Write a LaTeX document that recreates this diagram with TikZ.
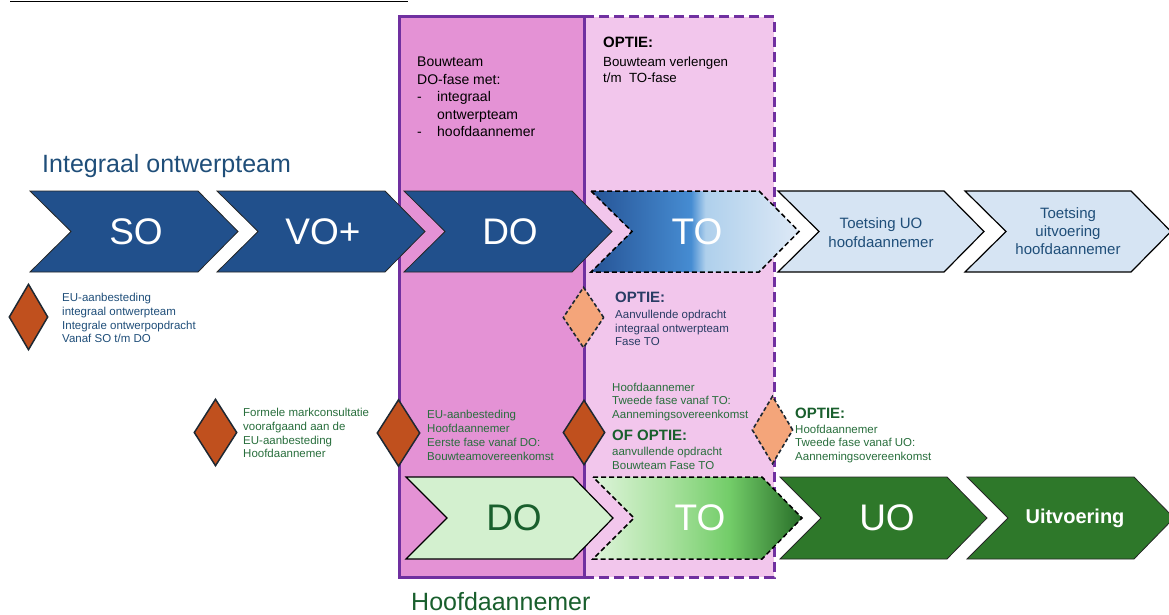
\documentclass[tikz,border=0pt]{standalone}
\usepackage{fontspec}
\setmainfont{Liberation Sans}
\usetikzlibrary{shapes.geometric}
\definecolor{bluechev}{RGB}{33,80,140}
\definecolor{lightblue}{RGB}{214,228,243}
\definecolor{bluetxt}{RGB}{31,78,121}
\definecolor{navytxt}{RGB}{40,60,100}
\definecolor{greendark}{RGB}{46,120,42}
\definecolor{greenlight}{RGB}{211,240,207}
\definecolor{greentxt}{RGB}{40,110,60}
\definecolor{greenbold}{RGB}{25,95,45}
\definecolor{purp}{RGB}{112,48,160}
\definecolor{pinkA}{RGB}{228,146,213}
\definecolor{pinkB}{RGB}{242,198,236}
\definecolor{rust}{RGB}{192,80,30}
\definecolor{salmon}{RGB}{244,165,122}
\definecolor{dline}{RGB}{30,40,50}
\definecolor{tbA}{RGB}{38,84,150}
\definecolor{tbB}{RGB}{70,140,210}
\definecolor{tbC}{RGB}{175,208,236}
\definecolor{tbD}{RGB}{222,233,246}
\definecolor{tgA}{RGB}{222,244,218}
\definecolor{tgB}{RGB}{170,226,160}
\definecolor{tgC}{RGB}{115,205,105}
\definecolor{tgD}{RGB}{40,110,40}
\pgfdeclarehorizontalshading{toblue}{100bp}{color(0bp)=(tbA); color(25bp)=(tbA); color(49bp)=(tbB); color(52.5bp)=(tbC); color(75bp)=(tbD); color(100bp)=(tbD)}
\pgfdeclarehorizontalshading{togreen}{100bp}{color(0bp)=(tgA); color(25bp)=(tgA); color(42.5bp)=(tgB); color(57.5bp)=(tgC); color(75bp)=(tgD); color(100bp)=(tgD)}
\newcommand\drawchev[5]{\path[#1] (#2,#3-#5) -- (#2+#4-40,#3-#5) -- (#2+#4,#3) -- (#2+#4-40,#3+#5) -- (#2,#3+#5) -- (#2+41,#3) -- cycle;}
\newcommand\setfs[2]{\fontsize{#1}{#2}\selectfont}
\tikzset{
  chevblue/.style={fill=bluechev, draw=black!85, line width=0.8},
  chevlight/.style={fill=lightblue, draw=black, line width=1.2},
  chevgreen/.style={fill=greendark, draw=black!85, line width=0.8},
  chevpale/.style={fill=greenlight, draw=black, line width=1.2},
  chevdash/.style={draw=black, line width=1.5, dash pattern=on 5 off 3},
  bigw/.style={text=white, font=\setfs{37}{40}, inner sep=0},
  lbl/.style={inner sep=0, anchor=west, align=left},
  smalltxt/.style={font=\setfs{11.5}{13.8}},
  boldtxt/.style={font=\bfseries\setfs{15}{17}},
  dia/.style={diamond, inner sep=0, fill=rust, draw=dline, line width=1.5},
  diadash/.style={diamond, inner sep=0, fill=salmon, draw=dline, line width=1.6, dash pattern=on 4 off 2.5},
}
\begin{document}
\begin{tikzpicture}[x=1pt,y=-1pt]
\useasboundingbox (0,0) rectangle (1169,615);
% cut-off header underline
\coordinate (hl) at (10,1.5);
\coordinate (hr) at (408,1.5);
\draw[line width=1.3] (hl) -- (hr);
% phase boxes
\fill[pinkB] (584,17) rectangle (774,577);
\draw[purp, line width=3, dash pattern=on 10 off 5] (584,17) -- (774,17) -- (774,577) -- (584,577);
\draw[purp, line width=3, fill=pinkA] (399,17) rectangle (584,577);
% top row chevrons
\drawchev{chevblue}{30}{231.5}{208}{40.5}
\drawchev{chevblue}{217}{231.5}{208}{40.5}
\drawchev{chevblue}{404}{231.5}{208}{40.5}
\drawchev{shading=toblue, chevdash}{591}{231.5}{208}{40.5}
\drawchev{chevlight}{778}{231.5}{206}{40.5}
\drawchev{chevlight}{965}{231.5}{206}{40.5}
\node[bigw] (so) at (136,231.5) {SO};
\node[bigw] (vo) at (323,231.5) {VO+};
\node[bigw] (do1) at (510,231.5) {DO};
\node[bigw] (to1) at (697,231.5) {TO};
\node[inner sep=0, align=center, text=bluetxt, font=\setfs{15}{18.5}] (tuo) at (881,232.5) {Toetsing UO\\hoofdaannemer};
\node[inner sep=0, align=center, text=bluetxt, font=\setfs{15}{18}] (tuv) at (1068,231) {Toetsing\\uitvoering\\hoofdaannemer};
% bottom row chevrons
\drawchev{chevpale}{406}{518}{207}{41}
\drawchev{shading=togreen, chevdash}{593}{518}{209}{41}
\drawchev{chevgreen}{780}{518}{207}{41}
\drawchev{chevgreen}{967}{518}{207}{41}
\node[bigw, text=greenbold] (do2) at (514,518) {DO};
\node[bigw] (to2) at (700,518) {TO};
\node[bigw] (uo) at (887,518) {UO};
\node[inner sep=0, text=white, font=\bfseries\setfs{20}{22}] (uitv) at (1075,518) {Uitvoering};
% headings
\node[lbl, anchor=base west, text=bluetxt, font=\setfs{25}{28}] (iot) at (42,172) {Integraal ontwerpteam};
\node[lbl, anchor=base west, text=greenbold, font=\setfs{25}{28}] (hfd) at (411,610.5) {Hoofdaannemer};
% box texts
\node[lbl, font=\setfs{14}{17.6}] (bt) at (417,97) {Bouwteam\\DO-fase met:\\\makebox[20pt][l]{-}integraal\\\hspace*{20pt}ontwerpteam\\\makebox[20pt][l]{-}hoofdaannemer};
\node[lbl, boldtxt] (opt0) at (603,42) {OPTIE:};
\node[lbl, font=\setfs{13.3}{16}] (btv) at (603,70) {Bouwteam verlengen\\t/m\ \ TO-fase};
% diamonds
\node[dia, minimum width=39, minimum height=66] (d1) at (28.5,317) {};
\node[dia, minimum width=43, minimum height=67] (d2) at (215.5,432.5) {};
\node[dia, minimum width=43, minimum height=67] (d3) at (398.5,433) {};
\node[dia, minimum width=42, minimum height=65] (d4) at (584,432.5) {};
\node[diadash, minimum width=41, minimum height=61] (d5) at (583.5,317.5) {};
\node[diadash, minimum width=41, minimum height=68] (d6) at (772.5,430) {};
% diamond texts
\node[lbl, smalltxt, text=bluetxt] (t1) at (62,318) {EU-aanbesteding\\integraal ontwerpteam\\Integrale ontwerpopdracht\\Vanaf SO t/m DO};
\node[lbl, smalltxt, text=greentxt] (t2) at (243,433) {Formele markconsultatie\\voorafgaand aan de\\EU-aanbesteding\\Hoofdaannemer};
\node[lbl, smalltxt, text=greentxt] (t3) at (427,435.5) {EU-aanbesteding\\Hoofdaannemer\\Eerste fase vanaf DO:\\Bouwteamovereenkomst};
\node[lbl, smalltxt, text=greentxt] (t4a) at (612,402) {Hoofdaannemer\\Tweede fase vanaf TO:\\Aannemingsovereenkomst};
\node[lbl, boldtxt, text=greenbold] (t4b) at (612,435) {OF OPTIE:};
\node[lbl, smalltxt, text=greentxt] (t4c) at (612,458.5) {aanvullende opdracht\\Bouwteam Fase TO};
\node[lbl, boldtxt, text=navytxt] (t5a) at (615,297) {OPTIE:};
\node[lbl, smalltxt, text=navytxt] (t5b) at (615,328) {Aanvullende opdracht\\integraal ontwerpteam\\Fase TO};
\node[lbl, boldtxt, text=greenbold] (t6a) at (795,413) {OPTIE:};
\node[lbl, smalltxt, text=greentxt] (t6b) at (795,444) {Hoofdaannemer\\Tweede fase vanaf UO:\\Aannemingsovereenkomst};
\end{tikzpicture}
\end{document}
